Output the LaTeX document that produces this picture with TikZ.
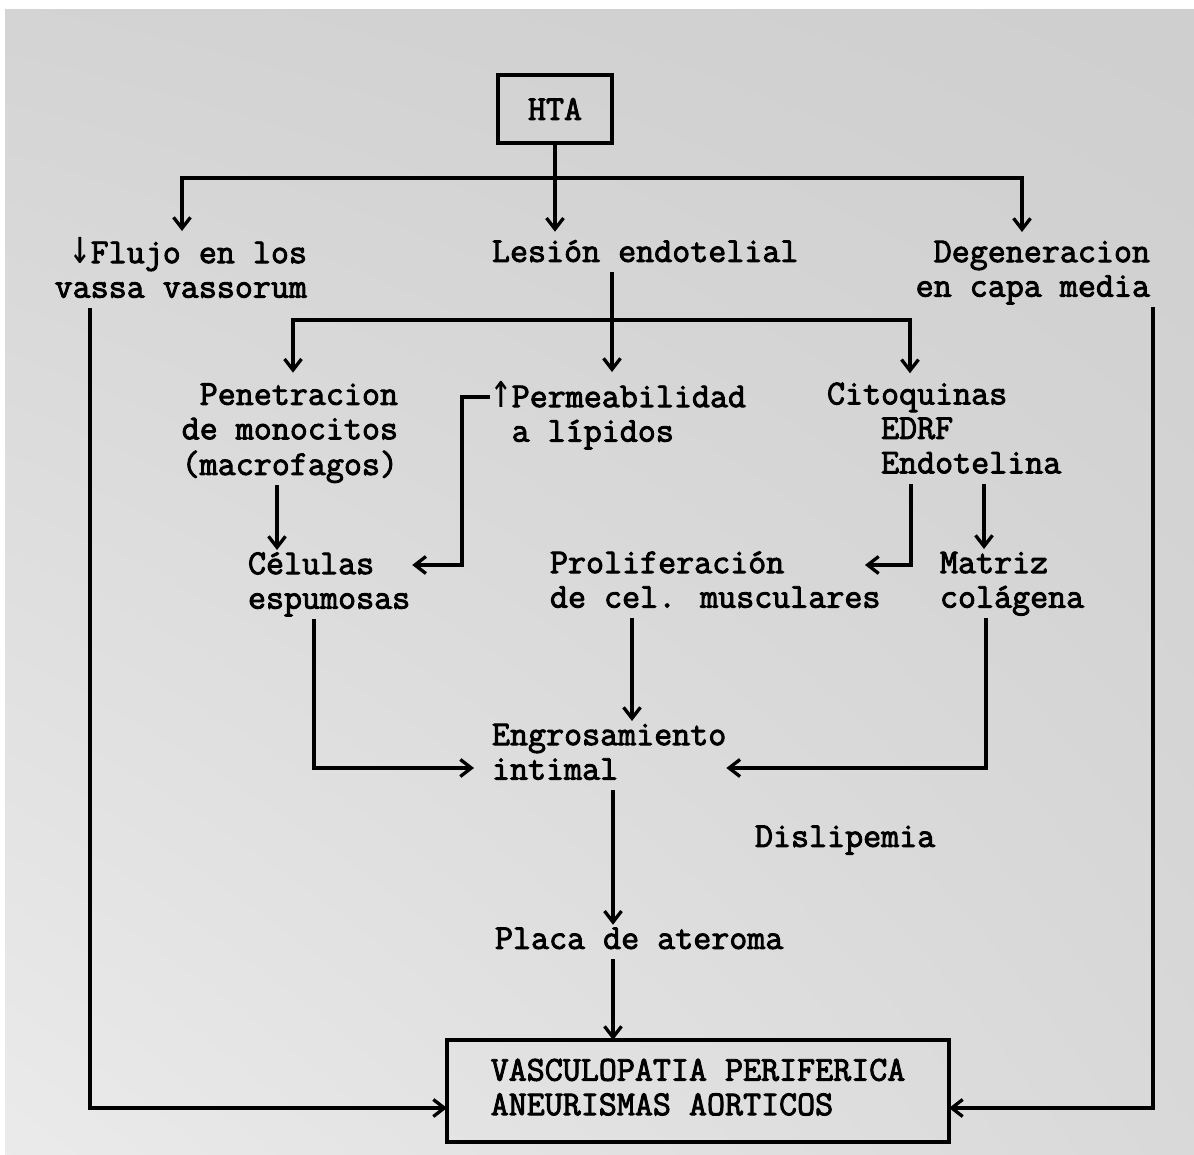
\documentclass[tikz,border=0pt]{standalone}
\usepackage{fontspec}
\usepackage{graphicx}
\usetikzlibrary{arrows.meta,shadings}
\newfontfamily\dgmono{Latin Modern Mono}[FakeBold=2.6]
\newfontfamily\dgarr{DejaVu Sans Mono}
\newcommand\UpArr{\makebox[0.62em]{\scalebox{1}[1.35]{\dgarr\fontsize{36}{36}\selectfont ↑}}}
\newcommand\DnArr{\makebox[0.62em]{\scalebox{1}[1.35]{\dgarr\fontsize{36}{36}\selectfont ↓}}}
\begin{document}
\begin{tikzpicture}[x=1pt,y=-1pt,
  txt/.style={inner sep=0pt, outer sep=0pt, font=\dgmono\fontsize{35}{34.5}\selectfont},
  ln/.style={line width=3.3pt},
  arr/.style={ln, -{Straight Barb[length=11pt,width=17pt]}},
  boxed/.style={txt, draw, line width=3.4pt}
]
\useasboundingbox (0,0) rectangle (1194,1155);
\shade[upper left=black!17, upper right=black!19, lower left=black!8, lower right=black!15] (5,10) rectangle (1194,1155);

% nodes
\node[boxed, minimum width=114pt, minimum height=68pt] (hta) at (555,109) {HTA};
\node[txt, align=right, anchor=east] (flujo) at (307,272.5) {\strut\DnArr Flujo en los\\\strut vassa vassorum};
\node[txt, anchor=west] (lesion) at (492,255) {\strut Lesión endotelial};
\node[txt, align=right, anchor=east] (degen) at (1150,272.5) {\strut Degeneracion\\\strut en capa media};
\node[txt, align=right, anchor=east] (penet) at (398,433) {\strut Penetracion\\\strut de monocitos\\\strut (macrofagos)};
\node[txt, align=left, anchor=west] (perm) at (490,416.5) {\strut\UpArr Permeabilidad\\\strut\hphantom{\UpArr}a lípidos};
\node[txt, align=left, anchor=west] (cito) at (827,432) {\strut Citoquinas\\\strut\hphantom{aaa}EDRF\\\strut\hphantom{aaa}Endotelina};
\node[txt, align=left, anchor=west] (celulas) at (248,584.5) {\strut Células\\\strut espumosas};
\node[txt, align=left, anchor=west] (prolif) at (550,583.5) {\strut Proliferación\\\strut de cel. musculares};
\node[txt, align=left, anchor=west] (matriz) at (940,583.5) {\strut Matriz\\\strut colágena};
\node[txt, align=left, anchor=west] (engros) at (492,755.5) {\strut Engrosamiento\\\strut intimal};
\node[txt, anchor=west] (disl) at (755,840) {\strut Dislipemia};
\node[txt, anchor=west] (placa) at (495,942) {\strut Placa de ateroma};
\node[boxed, align=left, minimum width=502pt, minimum height=102pt] (vasc) at (698,1091) {\strut VASCULOPATIA PERIFERICA\\\strut ANEURISMAS AORTICOS};

% coordinates
\coordinate (j0) at (555,178);
\coordinate (jL) at (182,178);
\coordinate (jR) at (1022,178);
\coordinate (k0) at (612,320);
\coordinate (kL) at (293,320);
\coordinate (kR) at (910,320);
\coordinate (xa) at (277,0);
\coordinate (pb) at (462,397);
\coordinate (pc) at (462,565);
\coordinate (qa) at (911,565);
\coordinate (qt) at (865,565);
\coordinate (qb) at (984,0);
\coordinate (ra) at (632,0);
\coordinate (sa) at (314,768);
\coordinate (sb) at (986,768);
\coordinate (ta) at (613,0);
\coordinate (ua) at (90,1108);
\coordinate (ub) at (1153,1108);

% connectors
\draw[arr, shorten >=6pt] (hta.south) -- (hta.south |- lesion.north);
\draw[arr, shorten >=6pt] (j0) -- (jL) -- (jL |- flujo.north);
\draw[arr, shorten >=6pt] (j0) -- (jR) -- (jR |- degen.north);
\draw[ln] (k0 |- lesion.south) -- (k0);
\draw[arr, shorten >=8pt] (k0) -- (kL) -- (kL |- penet.north);
\draw[arr, shorten >=9pt] (k0) -- (k0 |- perm.north);
\draw[arr, shorten >=7pt] (k0) -- (kR) -- (kR |- cito.north);
\draw[arr] (xa |- penet.south) -- (xa |- celulas.north);
\draw[arr, shorten >=2pt] (pb -| perm.west) -- (pb) -- (pc) -- (pc -| celulas.east);
\draw[arr] (qa |- cito.south) -- (qa) -- (qt);
\draw[arr] (qb |- cito.south) -- (qb |- matriz.north);
\draw[arr] (ra |- prolif.south) -- (ra |- engros.north);
\draw[arr, shorten >=18pt] (sa |- celulas.south) -- (sa) -- (sa -| engros.west);
\draw[arr] (sb |- matriz.south) -- (sb) -- (sb -| engros.east);
\draw[arr] (ta |- engros.south) -- (ta |- placa.north);
\draw[arr] (ta |- placa.south) -- (ta |- vasc.north);
\draw[arr] (ua |- flujo.south) -- (ua) -- (ua -| vasc.west);
\draw[arr] (ub |- degen.south) -- (ub) -- (ub -| vasc.east);
\end{tikzpicture}
\end{document}
